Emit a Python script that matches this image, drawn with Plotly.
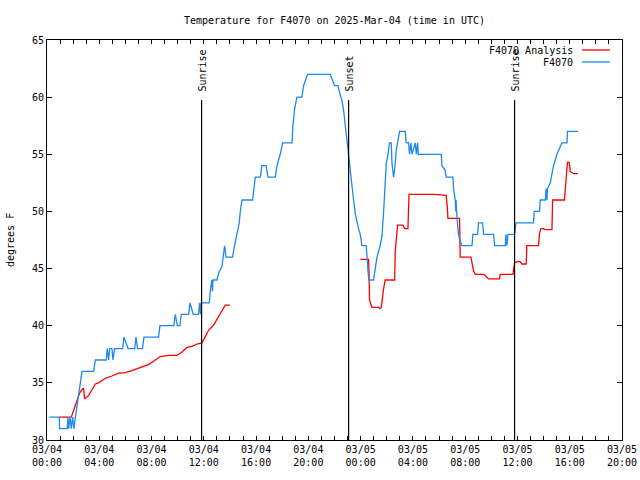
import plotly.graph_objects as go

# ---------------- data (hours since 03/04 00:00 UTC, degrees F) ----------------
obs_hours = [0.18, 0.94, 0.96, 1.55, 1.6, 1.66, 1.76, 1.86, 1.96, 2.06, 2.17, 2.29, 2.42, 2.55, 2.68,
             3.57, 3.7, 4.54, 4.61, 4.72, 4.79, 4.97, 5.05, 5.17, 5.79, 5.89, 6.2, 6.71, 6.81, 6.93,
             7.31, 7.42, 8.54, 8.64, 9.71, 9.82, 9.97, 10.17, 10.28, 10.84, 10.94, 11.19, 11.6, 11.68,
             11.75, 11.81, 12.42, 12.49, 12.62, 12.66, 12.7, 13.0, 13.13, 13.39, 13.59, 13.7, 14.2,
             14.35, 14.54, 14.71, 14.79, 14.92, 15.73, 15.84, 15.94, 16.32, 16.45, 16.76, 16.91, 17.47,
             17.6, 17.85, 18.03, 18.75, 18.82, 18.95, 19.13, 19.51, 19.63, 19.94, 21.68, 22.0, 22.26,
             22.44, 22.57, 22.69, 22.82, 22.95, 23.0, 23.13, 23.2, 23.34, 23.46, 23.59, 23.72, 23.84,
             23.97, 24.1, 24.43, 24.48, 24.58, 24.64, 24.99, 25.12, 25.25, 25.45, 25.63, 25.75, 25.88,
             25.96, 26.09, 26.21, 26.34, 26.4, 26.52, 26.6, 26.73, 26.83, 26.98, 27.41, 27.49, 27.67,
             27.74, 27.85, 27.93, 28.18, 28.26, 28.36, 28.41, 30.17, 30.22, 30.47, 30.55, 30.99, 31.06,
             31.11, 31.24, 31.28, 31.3, 31.37, 31.49, 31.6, 31.75, 32.52, 32.59, 32.95, 33.02, 33.33,
             33.41, 34.17, 34.25, 35.07, 35.12, 35.2, 35.27, 35.78, 35.88, 37.23, 37.28, 37.69, 37.74,
             38.13, 38.2, 38.25, 38.3, 38.51, 38.58, 38.76, 39.02, 39.4, 39.79, 39.83, 40.63]
obs_temp = [32, 32, 31, 31, 32, 31, 32, 31, 32, 31, 32, 33, 34, 35, 36,
            36, 37, 37, 38, 37, 38, 38, 37, 38, 38, 39, 38, 38, 39, 38,
            38, 39, 39, 40, 40, 41, 40, 40, 41, 41, 42, 41, 41, 42,
            41, 42, 42, 43, 44, 43, 44, 44, 44.6, 45.2, 47, 46, 46,
            47, 48, 49, 50, 51, 51, 52, 53, 53, 54, 54, 53, 53,
            54, 55, 56, 56, 57.5, 59, 60, 60, 61, 62, 62, 61, 61,
            60.2, 59.7, 58.9, 57.5, 56, 55.7, 54.5, 53.6, 52.2, 51, 49.8, 49, 48.5,
            48, 47, 47, 46, 44.5, 44, 44, 45, 46, 46.8, 47.8, 49.8, 52,
            54.2, 55, 56, 56, 54.2, 53, 53.6, 55.4, 56, 57, 57, 56, 56,
            55, 56, 55, 56, 55, 56, 55, 55, 54, 53.6, 53, 53, 53,
            52, 51, 50, 51, 49.5, 48, 47.5, 47, 47, 48, 48, 49, 49,
            48, 48, 47, 47, 48, 47, 48, 48, 49, 49, 50, 50, 51,
            51, 52, 51, 52, 52.5, 53, 54, 55, 56, 56, 57, 57]

ana_hours = [0.94, 1.86, 2.04, 2.29, 2.5, 2.73, 2.8, 2.88, 2.98, 3.19, 3.44, 3.7, 3.95, 4.21, 4.46,
             4.97, 5.48, 5.99, 6.5, 7.27, 7.77, 8.29, 8.67, 9.31, 9.95, 10.33, 10.71, 11.09, 11.48,
             11.86, 12.11, 12.37, 12.75, 13.2, 13.64, 14.0, None,
             23.97, 24.61, 24.64, 24.68, 24.75, 24.86, 25.37, 25.45, 25.58, 25.63, 25.71, 25.75, 25.88,
             26.6, 26.65, 26.73, 26.83, 27.24, 27.36, 27.62, 27.67, 27.7, 29.66, 30.55, 30.63, 30.68,
             31.57, 31.62, 32.44, 32.52, 32.64, 32.77, 33.15, 33.41, 33.53, 33.66, 33.79, 34.63, 34.68,
             35.65, 35.78, 35.96, 36.21, 36.34, 36.67, 36.72, 37.61, 37.69, 37.8, 38.0, 38.13, 38.64,
             38.69, 39.6, 39.71, 39.79, 39.83, 39.96, 40.04, 40.29, 40.63]
ana_temp = [32, 32, 32.6, 33.5, 34.1, 34.5, 34.5, 33.6, 33.7, 33.9, 34.4, 34.9, 35, 35.2, 35.4,
            35.6, 35.85, 35.9, 36.07, 36.4, 36.6, 37, 37.3, 37.4, 37.4, 37.7, 38.1, 38.2, 38.4,
            38.5, 39, 39.6, 40.06, 40.9, 41.8, 41.8, None,
            45.8, 45.8, 44.8, 42.3, 42, 41.6, 41.6, 41.5, 41.6, 42.1, 43, 43.2, 44,
            44, 46.6, 47.6, 48.8, 48.8, 48.5, 48.5, 50.1, 51.5, 51.5, 51.4, 50.4, 49.4,
            49.4, 46, 46, 45.4, 44.8, 44.5, 44.5, 44.5, 44.4, 44.2, 44.1, 44.1, 44.5,
            44.5, 45.5, 45.6, 45.6, 45.4, 45.4, 47, 47, 48.1, 48.5, 48.5, 48.4, 48.4,
            51, 51, 53.3, 53.8, 54.3, 54.3, 53.5, 53.3, 53.3]

event_hours = [11.83, 23.08, 35.78]
event_labels = ["Sunrise", "Sunset", "Sunrise"]

tick_hours = [0, 4, 8, 12, 16, 20, 24, 28, 32, 36, 40, 44]
tick_labels = ["03/04<br>00:00", "03/04<br>04:00", "03/04<br>08:00", "03/04<br>12:00",
               "03/04<br>16:00", "03/04<br>20:00", "03/05<br>00:00", "03/05<br>04:00",
               "03/05<br>08:00", "03/05<br>12:00", "03/05<br>16:00", "03/05<br>20:00"]

series_names = ["F4070 Analysis", "F4070"]
series_colors = ["#ff0000", "#1e88f0"]

FONT = "DejaVu Sans Mono"

fig = go.Figure()
fig.add_trace(go.Scatter(x=ana_hours, y=ana_temp, mode="lines", name=series_names[0],
                         line=dict(color=series_colors[0], width=1.3), connectgaps=False,
                         showlegend=False))
fig.add_trace(go.Scatter(x=obs_hours, y=obs_temp, mode="lines", name=series_names[1],
                         line=dict(color=series_colors[1], width=1.3), showlegend=False))

# plot area geometry (pixels)
L, R, T, B = 47, 622, 40, 440
PW, PH = R - L, B - T

shapes = []
annotations = []
for h, lab in zip(event_hours, event_labels):
    shapes.append(dict(type="line", xref="x", yref="paper", x0=h, x1=h, y0=0,
                       y1=(B - 100) / PH, line=dict(color="black", width=1.2)))
    annotations.append(dict(text=lab, x=h, xref="x", y=(B - 94) / PH, yref="paper",
                            textangle=-90, showarrow=False, xanchor="center", yanchor="bottom",
                            font=dict(family=FONT, size=10, color="black")))

# gnuplot-style key (text right-aligned, sample line on the right)
key_rows = [50, 62]
for name, col, yy in zip(series_names, series_colors, key_rows):
    annotations.append(dict(text=name, x=(575 - L) / PW, xref="paper", y=(B - yy) / PH,
                            yref="paper", xanchor="right", yanchor="middle", showarrow=False,
                            font=dict(family=FONT, size=10, color="black")))
    shapes.append(dict(type="line", xref="paper", yref="paper", x0=(582 - L) / PW,
                       x1=(610 - L) / PW, y0=(B - yy) / PH, y1=(B - yy) / PH,
                       line=dict(color=col, width=1.3)))

annotations.append(dict(text="degrees F", x=(10 - L) / PW, xref="paper", y=0.5, yref="paper",
                        textangle=-90, showarrow=False, xanchor="center", yanchor="middle",
                        font=dict(family=FONT, size=10, color="black")))

fig.update_layout(
    width=640, height=480,
    margin=dict(l=L, r=640 - R, t=T, b=480 - B, autoexpand=False),
    paper_bgcolor="white", plot_bgcolor="white",
    title=dict(text="Temperature for F4070 on 2025-Mar-04 (time in UTC)", x=(L + R) / 2 / 640,
               xanchor="center", y=1 - 20 / 480, yanchor="middle",
               font=dict(family=FONT, size=10, color="black")),
    shapes=shapes, annotations=annotations,
    font=dict(family=FONT, size=10, color="black"),
)
fig.update_xaxes(range=[0, 44], tickvals=tick_hours, ticktext=tick_labels, automargin=False,
                 showline=True, linecolor="black", linewidth=1, mirror="allticks",
                 ticks="inside", ticklen=4, tickcolor="black", showgrid=False, zeroline=False,
                 minor=dict(dtick=1, tick0=0, ticks="inside", ticklen=4, tickcolor="black",
                            showgrid=False),
                 tickfont=dict(family=FONT, size=10, color="black"))
fig.update_yaxes(range=[30, 65], dtick=5, tick0=30, automargin=False,
                 showline=True, linecolor="black", linewidth=1, mirror="allticks",
                 ticks="inside", ticklen=5, tickcolor="black", showgrid=False, zeroline=False,
                 tickfont=dict(family=FONT, size=10, color="black"))

fig.write_html("out.html", config={"displayModeBar": False},
               post_script="document.body.style.margin='0';document.body.style.overflow='hidden';")
